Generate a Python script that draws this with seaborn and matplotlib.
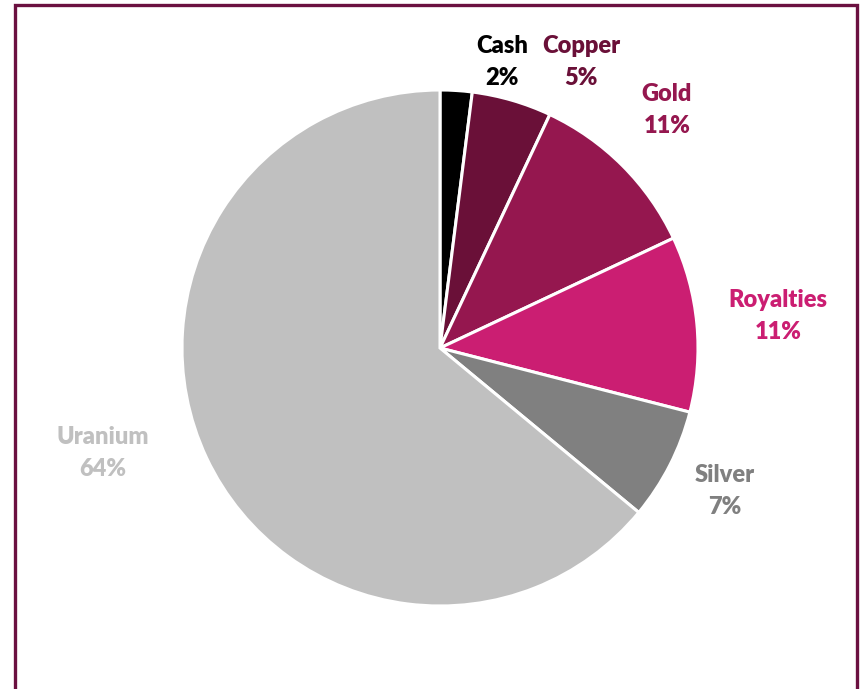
import matplotlib.pyplot as plt
import matplotlib.patches as patches
import seaborn as sns

# holdings breakdown, clockwise from 12 o'clock
categories = ["Cash", "Copper", "Gold", "Royalties", "Silver", "Uranium"]
shares = [2, 5, 11, 11, 7, 64]
slice_colors = ["#000000", "#6A1038", "#95174F", "#CB1E72", "#808080", "#C0C0C0"]
label_colors = ["#000000", "#6A1038", "#95174F", "#CB1E72", "#808080", "#C0C0C0"]

# label centres in pixels (x, y from top), first line
label_pos = [(502, 46), (581, 46), (667, 94), (778, 300), (725, 475), (103, 437)]

W, H = 865, 689

sns.set_theme(style="white")
plt.rcParams["font.family"] = ["Lato", "DejaVu Sans"]

fig = plt.figure(figsize=(W / 100, H / 100), dpi=100)
ax = fig.add_axes([0, 0, 1, 1])

ax.pie(
    shares,
    colors=slice_colors,
    startangle=90,
    counterclock=False,
    center=(440, H - 348),
    radius=258,
    frame=True,
    wedgeprops=dict(edgecolor="white", linewidth=2.2),
)
ax.set_xlim(0, W)
ax.set_ylim(0, H)
ax.set_aspect("equal")
ax.axis("off")

for name, val, col, (x, y) in zip(categories, shares, label_colors, label_pos):
    ax.text(x, H - y, name, ha="center", va="center", fontsize=17,
            fontweight="heavy", color=col)
    ax.text(x, H - y - 32, f"{val}%", ha="center", va="center", fontsize=17,
            fontweight="heavy", color=col)

# outer frame, open at the bottom edge
frame = patches.Rectangle((15 / W, -0.05), (857 - 15) / W, (H - 5) / H + 0.05,
                          transform=fig.transFigure, fill=False,
                          edgecolor="#6B1040", linewidth=2.4)
fig.patches.append(frame)

fig.savefig("out.png", dpi=100)
